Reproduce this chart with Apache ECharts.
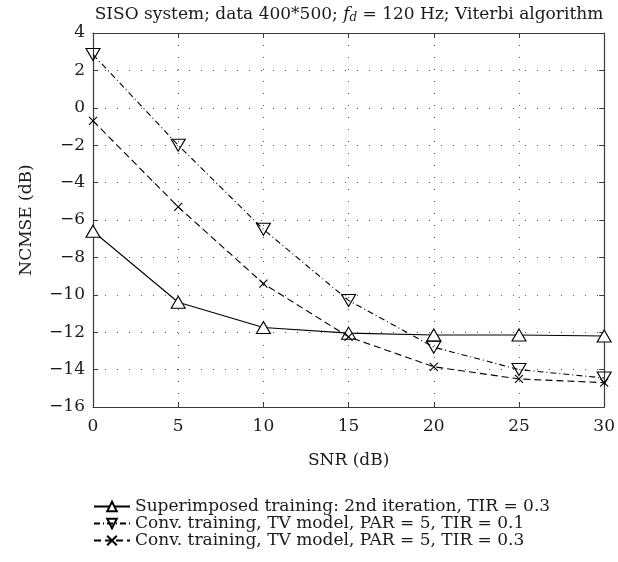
<!DOCTYPE html>
<html>
<head>
<meta charset="utf-8">
<script src="https://cdn.jsdelivr.net/npm/echarts@6/dist/echarts.min.js"></script>
<style>
  html, body { margin: 0; padding: 0; background: #fff; }
  #chart { width: 618px; height: 562px; }
</style>
</head>
<body>
<div id="chart"></div>
<script>
  // SNR (dB)
  let snr = [0, 5, 10, 15, 20, 25, 30]
  // NCMSE (dB) per scheme
  let superimposed = [-6.6, -10.4, -11.75, -12.05, -12.15, -12.15, -12.2]
  let convTir01 = [2.85, -2.0, -6.5, -10.3, -12.8, -14.0, -14.45]
  let convTir03 = [-0.7, -5.3, -9.4, -12.25, -13.85, -14.5, -14.7]
  let seriesNames = [
    'Superimposed training: 2nd iteration, TIR = 0.3',
    'Conv. training, TV model, PAR = 5, TIR = 0.1',
    'Conv. training, TV model, PAR = 5, TIR = 0.3'
  ]

  let font = 'DejaVu Serif'
  let fs = 17
  let ink = '#1a1a1a'
  let frame = '#3a3a3a'
  let crossPath = 'path://M0,0L10,10M10,0L0,10'

  function pairs (ys) {
    return snr.map((x, i) => [x, ys[i]])
  }
  function minus (v) {
    return String(v).replace('-', '\u2212')
  }

  let myChart = echarts.init(document.getElementById('chart'))
  let gridLine = {
    show: true,
    lineStyle: { color: '#555', width: 1, type: [1, 11] }
  }
  let option = {
    animation: false,
    backgroundColor: '#fff',
    title: {
      text: 'SISO system; data 400*500; {i|f}{s|d} = 120 Hz; Viterbi algorithm',
      left: 344,
      top: 0,
      textAlign: 'center',
      textStyle: {
        fontFamily: font,
        fontWeight: 'normal',
        fontSize: fs,
        color: ink,
        rich: {
          i: { fontFamily: font, fontStyle: 'italic', fontSize: fs, color: ink },
          s: { fontFamily: font, fontStyle: 'italic', fontSize: 12, color: ink, padding: [7, 0, 0, 0] }
        }
      }
    },
    grid: {
      left: 93,
      right: 8,
      top: 33,
      bottom: 155
    },
    legend: {
      orient: 'vertical',
      left: 88,
      top: 493,
      itemWidth: 36,
      itemHeight: 12,
      itemGap: 0,
      data: seriesNames,
      textStyle: { fontFamily: font, fontSize: fs, color: ink }
    },
    xAxis: [
      {
        type: 'value',
        min: 0,
        max: 30,
        interval: 5,
        name: 'SNR (dB)',
        nameLocation: 'middle',
        nameGap: 45,
        nameTextStyle: { fontFamily: font, fontSize: fs, color: ink },
        axisLine: { onZero: false, lineStyle: { color: frame, width: 1.2 } },
        axisTick: { inside: true, length: 5, lineStyle: { color: frame } },
        axisLabel: { fontFamily: font, fontSize: fs, color: ink, margin: 11 },
        splitLine: gridLine
      },
      {
        type: 'value',
        position: 'top',
        min: 0,
        max: 30,
        interval: 5,
        axisLine: { show: true, onZero: false, lineStyle: { color: frame, width: 1.2 } },
        axisTick: { show: true, inside: true, length: 5, lineStyle: { color: frame } },
        axisLabel: { show: false },
        splitLine: { show: false }
      }
    ],
    yAxis: [
      {
        type: 'value',
        min: -16,
        max: 4,
        interval: 2,
        name: 'NCMSE (dB)',
        nameLocation: 'middle',
        nameGap: 58,
        nameTextStyle: { fontFamily: font, fontSize: fs, color: ink },
        axisLine: { show: true, onZero: false, lineStyle: { color: frame, width: 1.2 } },
        axisTick: { show: true, inside: true, length: 5, lineStyle: { color: frame } },
        axisLabel: { fontFamily: font, fontSize: fs, color: ink, margin: 8, formatter: minus },
        splitLine: gridLine
      },
      {
        type: 'value',
        position: 'right',
        min: -16,
        max: 4,
        interval: 2,
        axisLine: { show: true, onZero: false, lineStyle: { color: frame, width: 1.2 } },
        axisTick: { show: true, inside: true, length: 5, lineStyle: { color: frame } },
        axisLabel: { show: false },
        splitLine: { show: false }
      }
    ],
    series: [
      {
        name: seriesNames[0],
        type: 'line',
        data: pairs(superimposed),
        symbol: 'triangle',
        symbolSize: [14, 12],
        lineStyle: { color: '#000', width: 1.1, type: 'solid' },
        itemStyle: { color: '#fff', borderColor: '#000', borderWidth: 1.1 },
        z: 3
      },
      {
        name: seriesNames[1],
        type: 'line',
        data: pairs(convTir01),
        symbol: 'triangle',
        symbolRotate: 180,
        symbolSize: [14, 12],
        lineStyle: { color: '#000', width: 1.1, type: [6, 3, 1, 3] },
        itemStyle: { color: 'rgba(255,255,255,0)', borderColor: '#000', borderWidth: 1.1 },
        z: 4
      },
      {
        name: seriesNames[2],
        type: 'line',
        data: pairs(convTir03),
        symbol: crossPath,
        symbolSize: 8,
        lineStyle: { color: '#000', width: 1.1, type: [7, 4] },
        itemStyle: { color: 'rgba(255,255,255,0)', borderColor: '#000', borderWidth: 1.1 },
        z: 5
      }
    ]
  }
  myChart.setOption(option)
</script>
</body>
</html>
